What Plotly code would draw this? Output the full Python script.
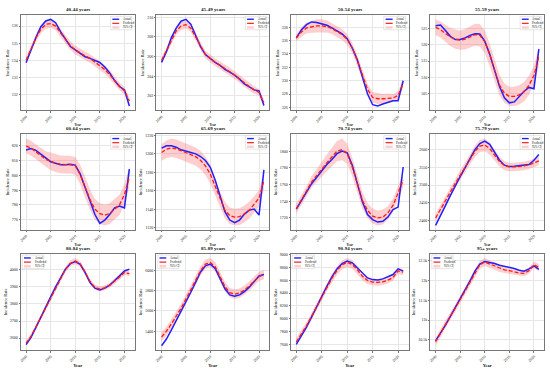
import plotly.graph_objects as go
from plotly.subplots import make_subplots

years = list(range(2000, 2022))
x_ticks = [2000, 2005, 2010, 2015, 2020]

# ---- 40-44 ----
actual_40_44 = [133.85,134.6,135.33,135.96,136.3,136.4,136.2,135.67,135.2,134.8,134.6,134.4,134.2,134.1,133.96,133.86,133.6,133.25,132.8,132.45,132.25,131.3]
pred_40_44 = [134.0,134.7,135.3,135.8,136.1,136.15,136.0,135.6,135.2,134.85,134.6,134.4,134.25,134.1,133.9,133.7,133.45,133.15,132.8,132.45,132.2,131.6]
ci_40_44 = [0.20,0.20,0.22,0.24,0.25,0.25,0.25,0.25,0.25,0.25,0.25,0.25,0.25,0.25,0.25,0.25,0.25,0.25,0.24,0.22,0.22,0.22]
yt_40_44 = [132,133,134,135,136]

# ---- 45-49 ----
actual_45_49 = [205.4,206.5,207.9,208.9,209.6,209.8,209.3,208.2,207.0,206.2,205.8,205.4,205.1,204.7,204.4,204.1,203.7,203.2,202.9,202.6,202.5,201.0]
pred_45_49 = [205.6,206.6,207.7,208.6,209.1,209.25,208.9,208.0,207.0,206.2,205.8,205.4,205.1,204.8,204.45,204.1,203.7,203.3,202.95,202.6,202.35,201.3]
ci_45_49 = [0.30,0.30,0.35,0.38,0.40,0.40,0.40,0.40,0.40,0.40,0.40,0.40,0.40,0.40,0.40,0.40,0.40,0.40,0.40,0.38,0.35,0.35]
yt_45_49 = [202,204,206,208,210]

# ---- 50-54 ----
actual_50_54 = [336.4,337.6,338.4,338.8,338.7,338.5,338.3,337.9,337.5,337.0,336.3,334.9,333.1,330.6,328.0,326.4,326.2,326.5,326.8,327.0,327.0,330.0]
pred_50_54 = [336.4,337.3,337.9,338.1,338.2,338.2,338.1,337.8,337.4,336.9,336.2,334.9,333.0,330.8,328.7,327.5,327.3,327.3,327.4,327.4,327.8,329.6]
ci_50_54 = [0.5,0.7,0.8,0.9,1.0,1.0,0.9,0.8,0.8,0.8,0.8,0.8,0.8,0.8,0.8,0.8,0.8,0.7,0.7,0.6,0.6,0.6]
yt_50_54 = [326,328,330,332,334,336,338]

# ---- 55-59 ----
actual_55_59 = [526.0,526.2,524.5,522.7,521.7,521.7,522.2,523.0,523.5,523.4,521.2,517.2,512.1,507.1,503.6,502.0,502.3,504.0,505.6,506.8,506.4,518.7]
pred_55_59 = [525.5,524.8,523.6,522.5,521.8,521.5,521.8,522.5,523.2,523.0,521.0,517.0,512.0,507.5,505.0,504.0,504.0,504.5,505.5,507.5,510.5,516.5]
ci_55_59 = [2.5,2.5,2.6,2.8,3.0,3.0,3.2,3.3,3.4,3.5,3.5,3.5,3.3,3.2,3.0,3.0,3.0,3.0,3.0,3.0,3.0,3.0]
yt_55_59 = [505,510,515,520,525]

# ---- 60-64 ----
actual_60_64 = [817.3,818.2,817.0,814.4,811.5,809.3,808.2,807.3,807.3,807.5,807.0,801.0,792.0,782.4,773.4,767.4,769.6,773.4,777.9,779.2,777.9,804.3]
pred_60_64 = [820.0,818.5,816.0,813.5,811.0,809.5,808.3,807.5,807.3,807.3,806.5,800.5,792.0,783.5,777.0,774.0,773.0,774.0,777.0,780.0,787.0,799.0]
ci_60_64 = [5,5,5,5,5.5,6,6,6,6,6,6,6.5,7,7,7,7,7,7,7,7,7,7]
yt_60_64 = [770,780,790,800,810,820]

# ---- 65-69 ----
actual_65_69 = [1206.2,1208.8,1208.8,1207.2,1204.4,1202.5,1201.4,1200.0,1197.1,1192.8,1185.5,1171.7,1153.6,1137.3,1128.3,1125.4,1128.3,1134.8,1139.1,1140.2,1133.7,1182.7]
pred_65_69 = [1201.5,1205.0,1206.5,1205.5,1203.5,1201.5,1199.5,1197.0,1193.0,1187.0,1178.0,1165.0,1150.0,1139.0,1133.0,1131.5,1132.0,1135.0,1139.0,1145.0,1152.0,1171.0]
ci_65_69 = [9,9.5,10,10,10,10,10,10,10,10,10,9.5,9,9,9,9,9,9,9,9,9,9]
yt_65_69 = [1120,1140,1160,1180,1200,1220]

# ---- 70-74 ----
actual_70_74 = [1730.4,1740,1751,1761,1769,1777,1784,1790,1797,1800,1798,1783,1761,1739,1724,1718,1715,1716,1721,1730,1733,1781]
pred_70_74 = [1731,1741,1752,1763,1771,1779,1786,1793,1800,1802,1797,1781,1760,1741,1729,1722,1720,1721,1726,1735,1750,1765]
ci_70_74 = [6,6,6,7,8,9,10,11,12,13,12,11,10,10,9,9,9,9,8,8,8,8]
yt_70_74 = [1720,1740,1760,1780,1800]

# ---- 75-79 ----
actual_75_79 = [2386,2412,2442,2470,2498,2524,2549,2575,2600,2617,2624,2615,2593,2570,2556,2552,2553,2554,2555,2558,2570,2586]
pred_75_79 = [2407,2430,2455,2480,2505,2528,2550,2573,2595,2610,2613,2603,2585,2566,2555,2551,2551,2552,2554,2557,2562,2568]
ci_75_79 = [12,12,12,12,12,13,14,15,16,17,18,17,15,14,13,12,12,12,12,12,12,12]
yt_75_79 = [2400,2450,2500,2550,2600]

# ---- 80-84 ----
actual_80_84 = [3561,3604,3663,3725,3783,3842,3900,3955,4004,4037,4049,4033,3984,3926,3893,3883,3893,3910,3936,3965,3994,4004]
pred_80_84 = [3570,3610,3665,3722,3780,3838,3897,3953,4003,4038,4052,4035,3988,3932,3898,3888,3895,3910,3932,3958,3985,3978]
ci_80_84 = [15,15,15,15,15,15,15,15,16,17,18,17,16,15,15,15,15,15,15,15,15,15]
yt_80_84 = [3600,3700,3800,3900,4000]

# ---- 85-89 ----
actual_85_89 = [5257,5323,5410,5500,5590,5683,5783,5883,5983,6043,6060,6017,5917,5817,5757,5743,5757,5790,5833,5890,5943,5957]
pred_85_89 = [5343,5400,5470,5545,5625,5715,5810,5910,5995,6060,6075,6035,5940,5840,5780,5765,5775,5805,5845,5895,5940,5955]
ci_85_89 = [45,45,45,45,45,45,45,45,45,45,45,45,45,45,45,45,45,45,45,45,45,45]
yt_85_89 = [5400,5600,5800,6000]

# ---- 90-94 ----
actual_90_94 = [7600,7725,7870,8026,8193,8349,8505,8651,8776,8859,8896,8870,8792,8698,8635,8609,8604,8620,8651,8688,8776,8740]
pred_90_94 = [7640,7760,7890,8035,8190,8340,8490,8630,8750,8840,8875,8845,8760,8660,8595,8570,8565,8575,8600,8640,8745,8725]
ci_90_94 = [60,60,55,55,55,55,60,65,68,70,70,68,65,60,55,50,50,50,50,50,50,50]
yt_90_94 = [7600,7800,8000,8200,8400,8600,8800,9000]

# ---- 95+ ----
actual_95 = [10474,10668,10872,11093,11313,11533,11753,11991,12238,12414,12482,12465,12430,12386,12359,12341,12306,12262,12236,12297,12368,12280]
pred_95 = [10450,10680,10900,11100,11300,11520,11740,11960,12200,12400,12470,12420,12360,12300,12270,12250,12220,12190,12180,12250,12400,12330]
ci_95 = [100,100,95,90,90,90,90,95,100,100,100,95,90,85,80,80,80,80,80,80,90,90]
yt_95 = [10500,11000,11500,12000,12500]

panels = [
    ("40-44 years", actual_40_44, pred_40_44, ci_40_44, yt_40_44),
    ("45-49 years", actual_45_49, pred_45_49, ci_45_49, yt_45_49),
    ("50-54 years", actual_50_54, pred_50_54, ci_50_54, yt_50_54),
    ("55-59 years", actual_55_59, pred_55_59, ci_55_59, yt_55_59),
    ("60-64 years", actual_60_64, pred_60_64, ci_60_64, yt_60_64),
    ("65-69 years", actual_65_69, pred_65_69, ci_65_69, yt_65_69),
    ("70-74 years", actual_70_74, pred_70_74, ci_70_74, yt_70_74),
    ("75-79 years", actual_75_79, pred_75_79, ci_75_79, yt_75_79),
    ("80-84 years", actual_80_84, pred_80_84, ci_80_84, yt_80_84),
    ("85-89 years", actual_85_89, pred_85_89, ci_85_89, yt_85_89),
    ("90-94 years", actual_90_94, pred_90_94, ci_90_94, yt_90_94),
    ("95+ years", actual_95, pred_95, ci_95, yt_95),
]
legend_labels = ["Actual", "Predicted", "95% CI"]

W, H = 550, 369
FONT = "Liberation Serif"
BLUE = "#1f1fff"
RED = "#ff1a1a"
PINK = "rgba(255,60,60,0.25)"
col_px = [(19, 133), (155, 268), (290, 408), (430, 544)]
row_px = [(13, 109), (133, 229), (253, 350)]

fig = make_subplots(rows=3, cols=4)

for i, (title, act, pred, ci, yt) in enumerate(panels):
    r, c = divmod(i, 4)
    upper = [p + e for p, e in zip(pred, ci)]
    lower = [p - e for p, e in zip(pred, ci)]
    fig.add_trace(go.Scatter(x=years, y=upper, mode="lines", line=dict(width=0),
                             hoverinfo="skip", showlegend=False), row=r + 1, col=c + 1)
    fig.add_trace(go.Scatter(x=years, y=lower, mode="lines", line=dict(width=0),
                             fill="tonexty", fillcolor=PINK, hoverinfo="skip",
                             showlegend=False), row=r + 1, col=c + 1)
    fig.add_trace(go.Scatter(x=years, y=act, mode="lines", name="Actual",
                             line=dict(color=BLUE, width=1.5), showlegend=False),
                  row=r + 1, col=c + 1)
    fig.add_trace(go.Scatter(x=years, y=pred, mode="lines", name="Predicted",
                             line=dict(color=RED, width=1.3, dash="4px,2px"), showlegend=False),
                  row=r + 1, col=c + 1)

    lo = min(min(act), min(lower))
    hi = max(max(act), max(upper))
    pad = 0.05 * (hi - lo)

    n = i + 1
    xa = "xaxis" if n == 1 else f"xaxis{n}"
    ya = "yaxis" if n == 1 else f"yaxis{n}"
    xr = "x" if n == 1 else f"x{n}"
    yr = "y" if n == 1 else f"y{n}"
    x0, x1 = col_px[c]
    t0, t1 = row_px[r]
    axis_common = dict(showline=True, mirror=True, linecolor="#777", linewidth=0.8,
                       showgrid=True, gridcolor="#e6e6e6", gridwidth=0.6,
                       ticks="outside", ticklen=1.5, tickwidth=0.6, tickcolor="#777",
                       tickfont=dict(family=FONT, size=4, color="#222"), zeroline=False)
    fig.layout[xa].update(domain=[x0 / W, x1 / W], range=[1998.95, 2022.05],
                          tickvals=x_ticks, tickangle=-45,
                          title=dict(text="<b>Year</b>",
                                     font=dict(family=FONT, size=4.5 if r == 2 else 3.2, color="#111"),
                                     standoff=0),
                          **axis_common)
    fig.layout[ya].update(domain=[1 - t1 / H, 1 - t0 / H], range=[lo - pad, hi + pad],
                          tickvals=yt,
                          title=dict(text="Incidence Rate", font=dict(family=FONT, size=4.5, color="#111"), standoff=2),
                          **axis_common)

    # subplot title
    fig.add_annotation(x=(x0 + x1) / 2 / W, y=1 - (t0 - 5.5) / H, xref="paper", yref="paper",
                       text=f"<b>{title}</b>", showarrow=False, xanchor="center", yanchor="middle",
                       font=dict(family=FONT, size=5, color="#111"))

    # legend box
    xd, yd = f"{xr} domain", f"{yr} domain"
    if r < 2:
        bx0, bx1, lx0, lx1, tx = 0.79, 0.975, 0.805, 0.865, 0.88
    else:
        bx0, bx1, lx0, lx1, tx = 0.012, 0.2, 0.027, 0.087, 0.102
    rows_y = [0.955, 0.912, 0.869]
    fig.add_shape(type="rect", xref=xd, yref=yd, x0=bx0, x1=bx1, y0=0.845, y1=0.985,
                  fillcolor="rgba(255,255,255,0.85)", line=dict(color="#ccc", width=0.5))
    fig.add_shape(type="line", xref=xd, yref=yd, x0=lx0, x1=lx1, y0=rows_y[0], y1=rows_y[0],
                  line=dict(color=BLUE, width=1.4))
    fig.add_shape(type="line", xref=xd, yref=yd, x0=lx0, x1=lx1, y0=rows_y[1], y1=rows_y[1],
                  line=dict(color=RED, width=1.2, dash="dash"))
    fig.add_shape(type="rect", xref=xd, yref=yd, x0=lx0, x1=lx1, y0=rows_y[2] - 0.013,
                  y1=rows_y[2] + 0.013, fillcolor=PINK, line=dict(width=0))
    for k, lab in enumerate(legend_labels):
        fig.add_annotation(x=tx, y=rows_y[k], xref=xd, yref=yd, text=lab, showarrow=False,
                           xanchor="left", yanchor="middle",
                           font=dict(family=FONT, size=3, color="#111"))

fig.update_layout(width=W, height=H, margin=dict(l=0, r=0, t=0, b=0),
                  plot_bgcolor="white", paper_bgcolor="white",
                  font=dict(family=FONT), showlegend=False)

fig.write_html("out.html", config={"displayModeBar": False},
               post_script="document.body.style.margin='0';document.body.style.padding='0';document.body.style.overflow='hidden';")
